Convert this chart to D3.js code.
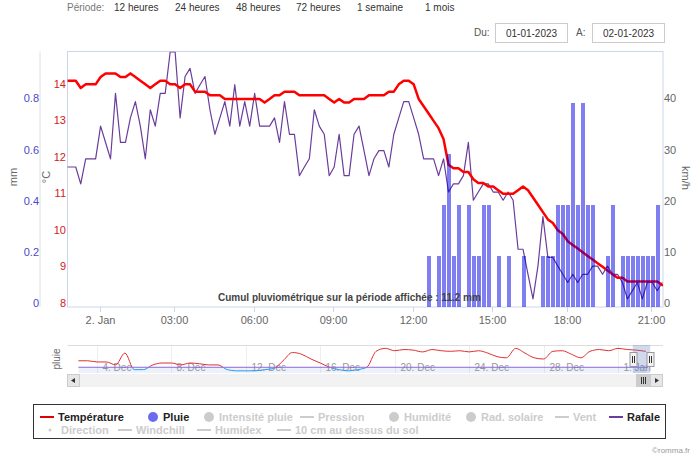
<!DOCTYPE html>
<html><head><meta charset="utf-8">
<script src="https://cdn.jsdelivr.net/npm/d3@7"></script>
<style>
body{margin:0;background:#fff;}
svg{display:block;font-family:"Liberation Sans",Arial,sans-serif;}
</style></head><body>
<svg id="c" width="700" height="462"></svg>
<script>
// ---------- data ----------
const periodLabels = ["12 heures","24 heures","48 heures","72 heures","1 semaine","1 mois"];
const dateFrom = "01-01-2023";
const dateTo = "02-01-2023";

// samples (ordinal axis), one per record
const temperature = [
 14.2,14.2,14.2,14.0,14.1,14.1,14.1,14.3,14.4,14.4,
 14.4,14.3,14.3,14.4,14.3,14.2,14.1,14.0,14.1,14.2,
 14.2,14.1,14.1,14.0,14.1,14.1,13.9,13.9,13.9,13.8,
 13.8,13.8,13.7,13.7,13.7,13.7,13.7,13.7,13.7,13.7,
 13.6,13.7,13.8,13.8,13.9,13.9,13.9,13.8,13.8,13.8,
 13.8,13.8,13.8,13.7,13.6,13.7,13.6,13.6,13.7,13.7,
 13.7,13.8,13.8,13.8,13.8,13.9,13.9,14.1,14.2,14.2,
 14.1,13.7,13.5,13.3,13.1,12.9,12.6,11.9,11.8,11.8,
 11.7,11.7,11.5,11.4,11.4,11.3,11.3,11.2,11.1,11.1,
 11.1,11.2,11.3,11.2,11.0,10.8,10.6,10.4,10.3,10.1,
 10.0,9.8,9.7,9.6,9.5,9.4,9.3,9.2,9.1,9.0,
 8.9,8.8,8.8,8.7,8.7,8.7,8.7,8.7,8.7,8.7,8.6];
const gust = [
 27.4,27.4,27.4,24.1,29.0,29.0,29.0,35.4,32.2,29.0,
 41.8,32.2,32.2,37.0,40.2,35.4,29.0,38.6,35.4,41.8,
 41.8,49.9,49.9,37.0,45.1,46.7,41.8,43.5,45.1,38.6,
 33.8,37.0,40.2,35.4,43.5,35.4,40.2,35.4,41.8,35.4,
 35.4,35.4,37.0,32.2,40.2,33.8,33.8,25.7,27.4,29.0,
 38.6,35.4,33.8,25.7,27.4,33.8,25.7,25.7,33.8,35.4,
 30.6,25.7,29.0,30.6,30.6,27.4,33.8,37.0,40.2,40.2,
 37.0,33.8,29.0,29.0,29.0,25.7,29.0,22.5,24.1,24.1,
 25.7,32.2,20.9,22.5,24.1,24.1,22.5,22.5,20.9,22.5,
 20.9,11.3,11.3,6.4,1.6,8.0,17.7,9.7,9.7,8.0,
 6.4,4.8,6.4,4.8,6.4,6.4,8.0,8.0,6.4,8.0,
 6.4,6.4,4.8,1.6,3.2,4.8,1.6,4.8,4.8,3.2,4.8];
const rain = [
 0,0,0,0,0,0,0,0,0,0, 0,0,0,0,0,0,0,0,0,0,
 0,0,0,0,0,0,0,0,0,0, 0,0,0,0,0,0,0,0,0,0,
 0,0,0,0,0,0,0,0,0,0, 0,0,0,0,0,0,0,0,0,0,
 0,0,0,0,0,0,0,0,0,0, 0,0,0,0.2,0,0.2,0.4,0.6,0.2,0.4,
 0,0.4,0.2,0.2,0.4,0.4,0,0.2,0,0.2, 0,0,0.2,0,0,0,0.2,0.2,0.2,0.4,
 0.4,0.4,0.8,0.4,0.8,0.4,0.4,0,0,0.2, 0.4,0,0.2,0.2,0.2,0.2,0.2,0.2,0.2,0.4,0];
// x-axis ticks: position along the record sequence, label
const xTickPos = [6.8,21.8,37.9,53.8,69.9,85.7,100.8,117.7];
const xTickLabels = ["2. Jan","03:00","06:00","09:00","12:00","15:00","18:00","21:00"];
const tempTicks = [8,9,10,11,12,13,14];
const rainTicks = [0,0.2,0.4,0.6,0.8];
const gustTicks = [0,10,20,30,40];
const cumulLabel = "Cumul pluviométrique sur la période affichée : 11.2 mm";

// navigator: temperature every 12 h starting 3 Dec 2022 00:00
const navTemps = [
 5.5,5.5,4.5,4.5,2.0,12.0,-2.0,-2.0,2.0,3.6,3.6,2.0,3.6,3.0,2.0,2.0,
 -2.0,-3.0,-3.0,-3.0,-2.0,-1.0,5.5,12.5,11.0,7.0,3.6,0.0,-2.0,-3.0,-2.0,0.0,
 13.5,16.0,14.0,15.0,14.5,13.0,15.0,14.0,13.5,14.0,13.0,14.0,12.0,9.0,8.0,16.0,
 12.0,8.0,7.0,13.5,14.0,11.0,8.0,13.5,15.0,14.0,16.0,15.0,14.5,13.5];
const navTickDates = ["2022-12-04","2022-12-08","2022-12-12","2022-12-16","2022-12-20","2022-12-24","2022-12-28","2023-01-01"];
const navTickLabels = ["4. Dec","8. Dec","12. Dec","16. Dec","20. Dec","24. Dec","28. Dec","1. Jan"];

const legendRow1 = [
 {name:"Température", sym:"line", color:"#e00000", on:true},
 {name:"Pluie", sym:"dot", color:"#6b6bf0", on:true},
 {name:"Intensité pluie", sym:"dot", on:false},
 {name:"Pression", sym:"line", on:false},
 {name:"Humidité", sym:"dot", on:false},
 {name:"Rad. solaire", sym:"dot", on:false},
 {name:"Vent", sym:"line", on:false},
 {name:"Rafale", sym:"line", color:"#6a3d9a", on:true}];
const legendRow2 = [
 {name:"Direction", sym:"small", on:false},
 {name:"Windchill", sym:"line", on:false},
 {name:"Humidex", sym:"line", on:false},
 {name:"10 cm au dessus du sol", sym:"line", on:false}];

// ---------- drawing ----------
const svg = d3.select("#c");
const P = {l:67.5, r:663, t:51.5, b:307};
const n = temperature.length;
const x = d3.scaleLinear().domain([0, n-1]).range([65.8, 662.2]);
const yT = d3.scaleLinear().domain([8,15]).range([P.b, P.t]);
const yR = d3.scaleLinear().domain([0,1]).range([P.b, P.t]);
const yG = d3.scaleLinear().domain([0,50]).range([P.b, P.t]);

// top controls
const topG = svg.append("g").style("font-size","10px");
topG.append("text").attr("x",67).attr("y",11).attr("fill","#777").text("Période:");
const periodX = [114,175,236,296,357,425];
periodLabels.forEach((p,i)=> topG.append("text").attr("x",periodX[i]).attr("y",11).attr("fill","#333").text(p));
topG.append("text").attr("x",474).attr("y",36).attr("fill","#555").text("Du:");
topG.append("text").attr("x",576).attr("y",36).attr("fill","#555").text("A:");
[[495,dateFrom],[592,dateTo]].forEach(([bx,t])=>{
  topG.append("rect").attr("x",bx+0.5).attr("y",23.5).attr("width",72).attr("height",19).attr("fill","#fff").attr("stroke","#ccc");
  topG.append("text").attr("x",bx+36.5).attr("y",36.5).attr("text-anchor","middle").attr("fill","#333").text(t);
});

// clip
svg.append("defs").append("clipPath").attr("id","pc").append("rect")
  .attr("x",P.l).attr("y",P.t).attr("width",P.r-P.l).attr("height",P.b-P.t);

// axes lines
const ax = svg.append("g");
ax.append("line").attr("x1",40).attr("x2",40).attr("y1",P.t).attr("y2",P.b).attr("stroke","#e0e0e0");
ax.append("rect").attr("x",P.l).attr("y",P.t).attr("width",P.r-P.l).attr("height",P.b-P.t)
  .attr("fill","none").attr("stroke","#ccd6eb");

// y labels
const lab = svg.append("g").style("font-size","11px");
tempTicks.forEach(t=> lab.append("text").attr("x",66).attr("y",yT(t)-4).attr("dy","0.35em")
  .attr("text-anchor","end").attr("fill","#d42020").text(t));
rainTicks.forEach(t=> lab.append("text").attr("x",39).attr("y",yR(t)-4).attr("dy","0.35em")
  .attr("text-anchor","end").attr("fill","#4a4ac8").text(t));
gustTicks.forEach(t=> lab.append("text").attr("x",664).attr("y",yG(t)-4).attr("dy","0.35em")
  .attr("text-anchor","start").attr("fill","#666").text(t));
lab.append("text").attr("transform","translate(17,177) rotate(-90)").attr("text-anchor","middle").attr("fill","#666").text("mm");
lab.append("text").attr("transform","translate(50,177) rotate(-90)").attr("text-anchor","middle").attr("fill","#666").text("°C");
lab.append("text").attr("transform","translate(682,178) rotate(90)").attr("text-anchor","middle").attr("fill","#666").text("km/h");

// x ticks
xTickPos.forEach((p,i)=>{
  const xx = Math.round(x(p))+0.5;
  ax.append("line").attr("x1",xx).attr("x2",xx).attr("y1",P.b).attr("y2",P.b+5).attr("stroke","#ccd6eb");
  lab.append("text").attr("x",xx).attr("y",324).attr("text-anchor","middle").attr("fill","#666").text(xTickLabels[i]);
});

// series
const g = svg.append("g").attr("clip-path","url(#pc)");
g.append("path").datum(gust).attr("fill","none").attr("stroke","#6a3d9a").attr("stroke-width",1.2)
  .attr("stroke-linejoin","round")
  .attr("d", d3.line().x((d,i)=>x(i)).y(d=>yG(d)));
g.append("path").datum(temperature).attr("fill","none").attr("stroke","#ff0000").attr("stroke-width",2.5)
  .attr("stroke-linejoin","round").attr("stroke-linecap","round")
  .attr("d", d3.line().x((d,i)=>x(i)).y(d=>yT(d)));
const bw = x(1)-x(0);
g.selectAll("rect.bar").data(rain.map((v,i)=>({v,i})).filter(d=>d.v>0)).enter().append("rect")
  .attr("x",d=>Math.round(x(d.i)-bw/2)+1).attr("width",d=>Math.round(x(d.i)+bw/2)-Math.round(x(d.i)-bw/2)-1)
  .attr("y",d=>Math.round(yR(d.v))).attr("height",d=>yR(0)-Math.round(yR(d.v)))
  .attr("shape-rendering","crispEdges")
  .attr("fill","rgba(0,0,230,0.5)");

svg.append("text").attr("x",218).attr("y",301).attr("font-size","10px").attr("font-weight","bold")
  .attr("fill","#444").text(cumulLabel);

// ---------- navigator ----------
const NV = {l:67.5, r:663, t:345, b:373};
const nx = d3.scaleUtc().domain([new Date(navTickDates[0]), new Date(navTickDates[7])]).range([97,618]);
const ny = d3.scaleLinear().domain([-4,18]).range([NV.b-1, NV.t+1]);
const navStart = Date.UTC(2022,11,3,0);
const navPts = navTemps.map((v,i)=>({t:new Date(navStart + i*12*3600e3), v}));
const nav = svg.append("g");
navTickDates.forEach((d,i)=>{
  const xx = Math.round(nx(new Date(d)))+0.5;
  nav.append("line").attr("x1",xx).attr("x2",xx).attr("y1",NV.t).attr("y2",NV.b).attr("stroke","#eee");
  nav.append("text").attr("x",xx+5).attr("y",371).attr("font-size","10px").attr("fill","#999").text(navTickLabels[i]);
});
nav.append("line").attr("x1",NV.l).attr("x2",NV.r).attr("y1",NV.t+0.5).attr("y2",NV.t+0.5).attr("stroke","#ddd");
nav.append("rect").attr("x",nx(navPts[0].t)).attr("y",ny(0)).attr("width",nx(navPts[navPts.length-1].t)-nx(navPts[0].t))
  .attr("height",NV.b-ny(0)).attr("fill","rgba(100,140,220,0.12)");
nav.append("defs").html('<clipPath id="npos"><rect x="0" y="0" width="700" height="'+ny(0)+'"/></clipPath><clipPath id="nneg"><rect x="0" y="'+ny(0)+'" width="700" height="100"/></clipPath>');
const nline = d3.line().x(d=>nx(d.t)).y(d=>ny(d.v)).curve(d3.curveMonotoneX);
nav.append("path").datum(navPts).attr("d",nline).attr("fill","none").attr("stroke","#e03030").attr("stroke-width",1).attr("clip-path","url(#npos)");
nav.append("path").datum(navPts).attr("d",nline).attr("fill","none").attr("stroke","#3399ee").attr("stroke-width",1).attr("clip-path","url(#nneg)");
nav.append("line").attr("x1",nx(navPts[0].t)).attr("x2",nx(navPts[navPts.length-1].t)+2).attr("y1",ny(0)).attr("y2",ny(0))
  .attr("stroke","#8a6ad8").attr("stroke-width",1);
const selA = nx(new Date(Date.UTC(2022,11,31,23))), selB = nx(new Date(Date.UTC(2023,0,1,21,20)));
const s0 = selA + 15.6, s1 = selB + 15.6;
nav.append("rect").attr("x",s0).attr("y",NV.t).attr("width",s1-s0).attr("height",NV.b-NV.t).attr("fill","rgba(102,133,194,0.3)");
[s0,s1].forEach(sx=>{
  const hx = Math.round(sx)+0.5;
  nav.append("rect").attr("x",hx-3.5).attr("y",352.5).attr("width",7).attr("height",14).attr("fill","#f2f2f2").attr("stroke","#999");
  nav.append("line").attr("x1",hx-1).attr("x2",hx-1).attr("y1",356).attr("y2",363).attr("stroke","#333");
  nav.append("line").attr("x1",hx+1).attr("x2",hx+1).attr("y1",356).attr("y2",363).attr("stroke","#333");
});
nav.append("text").attr("transform","translate(60,359) rotate(-90)").attr("text-anchor","middle")
  .attr("font-size","10px").attr("fill","#666").text("pluie");
const sb = svg.append("g");
sb.append("rect").attr("x",67.5).attr("y",374.5).attr("width",595).attr("height",12).attr("fill","#f2f2f2").attr("stroke","#f2f2f2");
sb.append("rect").attr("x",67.5).attr("y",374.5).attr("width",12).attr("height",12).attr("fill","#e6e6e6").attr("stroke","#ccc");
sb.append("rect").attr("x",650.5).attr("y",374.5).attr("width",12).attr("height",12).attr("fill","#e6e6e6").attr("stroke","#ccc");
sb.append("path").attr("d","M75,378 L71,380.5 L75,383 Z").attr("fill","#333");
sb.append("path").attr("d","M655,378 L659,380.5 L655,383 Z").attr("fill","#333");
sb.append("rect").attr("x",636.5).attr("y",374.5).attr("width",14).attr("height",12).attr("fill","#ccc").attr("stroke","#ccc");
[641,643,645].forEach(lx=> sb.append("line").attr("x1",lx+0.5).attr("x2",lx+0.5).attr("y1",377).attr("y2",384).attr("stroke","#333"));

// ---------- legend ----------
const lg = svg.append("g").style("font-size","11px").style("font-weight","bold");
lg.append("rect").attr("x",33.5).attr("y",404.5).attr("width",632).attr("height",34).attr("fill","#fff").attr("stroke","#333");
const row1X = [40,145,201,300,386,463,555,609];
const row2X = [43,118,197,277];
function drawItem(item, lx, ly){
  const c = item.on ? (item.color||"#333") : "#ccc";
  if(item.sym==="line") lg.append("line").attr("x1",lx).attr("x2",lx+14).attr("y1",ly).attr("y2",ly).attr("stroke",c).attr("stroke-width",2);
  else if(item.sym==="dot") lg.append("circle").attr("cx",lx+8).attr("cy",ly).attr("r",5).attr("fill",c);
  else lg.append("circle").attr("cx",lx+7).attr("cy",ly).attr("r",1.5).attr("fill",c);
  lg.append("text").attr("x",lx+18).attr("y",ly+4).attr("fill",item.on?"#222":"#ccc").text(item.name);
}
legendRow1.forEach((it,i)=>drawItem(it,row1X[i],417));
legendRow2.forEach((it,i)=>drawItem(it,row2X[i],430));

svg.append("text").attr("x",690).attr("y",453).attr("text-anchor","end").attr("font-size","8px").attr("fill","#999").text("©romma.fr");
</script></body></html>
